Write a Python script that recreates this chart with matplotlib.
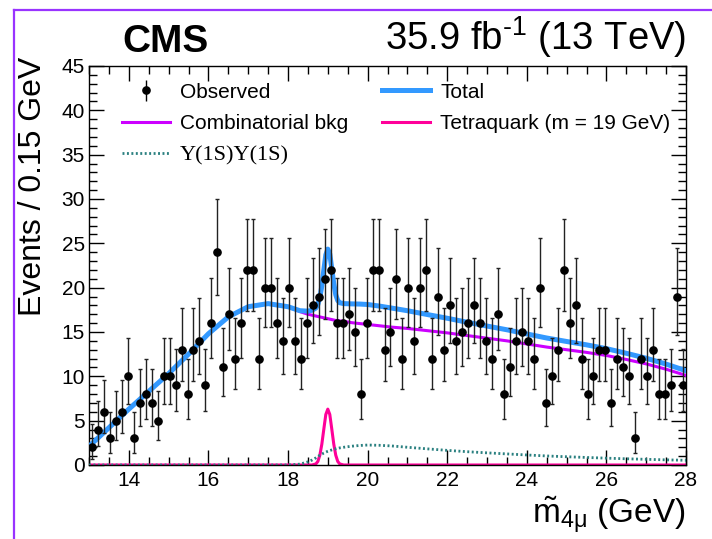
import numpy as np
import matplotlib
matplotlib.use('Agg')
import matplotlib.pyplot as plt
from matplotlib.lines import Line2D

plt.rcParams['font.family'] = ['Liberation Sans', 'DejaVu Sans']
plt.rcParams['mathtext.fontset'] = 'custom'
plt.rcParams['mathtext.rm'] = 'Liberation Sans'
plt.rcParams['mathtext.it'] = 'Liberation Sans'
plt.rcParams['mathtext.default'] = 'regular'

# observed counts, 100 bins of 0.15 GeV from 13 to 28 GeV
bin_lo = 13.0
bin_w = 0.15
counts = [2, 4, 6, 3, 5, 6, 10, 3, 7, 8, 7, 5, 10, 10, 9, 13, 8, 13, 14, 9,
          16, 24, 11, 17, 12, 16, 22, 22, 12, 20, 20, 16, 14, 20, 14, 12, 16, 18, 19, 21,
          22, 16, 16, 17, 15, 8, 16, 22, 22, 13, 15, 21, 12, 20, 14, 20, 22, 12, 19, 13,
          18, 14, 15, 16, 18, 16, 14, 12, 17, 8, 11, 14, 15, 14, 12, 20, 7, 10, 13, 22,
          16, 18, 12, 8, 10, 13, 13, 7, 12, 11, 10, 3, 12, 10, 13, 8, 8, 9, 19, 9]

# fit curves
x_fit = [13.0, 13.5, 14.0, 14.5, 15.0, 15.5, 16.0, 16.5, 17.0, 17.5, 18.0, 18.3,
         18.5, 18.6, 18.7, 18.75, 18.8, 18.85, 18.9, 18.95, 19.0, 19.05, 19.1, 19.15,
         19.2, 19.25, 19.3, 19.4, 19.6, 19.8, 20.0, 20.3, 20.6, 21.0, 21.5, 22.0,
         22.5, 23.0, 23.5, 24.0, 24.5, 25.0, 25.5, 26.0, 26.5, 27.0, 27.5, 28.0]
comb_bkg = [2.1, 4.2, 6.3, 8.3, 10.3, 12.5, 14.8, 16.7, 17.85, 18.2, 17.85, 17.3,
            17.0, 16.9, 16.8, 16.75, 16.7, 16.65, 16.6, 16.55, 16.5, 16.45, 16.4, 16.35,
            16.3, 16.28, 16.25, 16.2, 16.05, 15.95, 15.85, 15.7, 15.55, 15.4, 15.15, 14.9,
            14.6, 14.3, 14.0, 13.65, 13.3, 13.0, 12.7, 12.35, 11.9, 11.4, 10.8, 10.1]
upsilon_pair = [0, 0, 0, 0, 0, 0, 0, 0, 0, 0, 0, 0.1,
                0.35, 0.55, 0.8, 0.95, 1.1, 1.22, 1.35, 1.45, 1.55, 1.63, 1.7, 1.77,
                1.83, 1.88, 1.93, 2.0, 2.12, 2.2, 2.25, 2.22, 2.15, 2.0, 1.82, 1.65,
                1.5, 1.37, 1.25, 1.13, 1.02, 0.93, 0.85, 0.77, 0.7, 0.64, 0.58, 0.53]
tetraquark = [0, 0, 0, 0, 0, 0, 0, 0, 0, 0, 0, 0,
              0, 0, 0.12, 0.4, 1.1, 2.35, 4.05, 5.7, 6.3, 5.7, 4.05, 2.35,
              1.1, 0.4, 0.12, 0, 0, 0, 0, 0, 0, 0, 0, 0,
              0, 0, 0, 0, 0, 0, 0, 0, 0, 0, 0, 0]
total = [2.1, 4.2, 6.3, 8.3, 10.3, 12.5, 14.8, 16.7, 17.85, 18.2, 17.85, 17.4,
         17.35, 17.45, 17.7, 18.1, 18.9, 20.2, 22.0, 23.7, 24.35, 23.8, 22.15, 20.45,
         19.2, 18.55, 18.3, 18.2, 18.17, 18.15, 18.1, 17.92, 17.7, 17.4, 16.97, 16.55,
         16.1, 15.67, 15.25, 14.78, 14.32, 13.93, 13.55, 13.12, 12.6, 12.04, 11.38, 10.63]

n = np.array(counts, dtype=float)
centers = bin_lo + bin_w * (np.arange(len(n)) + 0.5)
# Poisson (Gehrels) intervals
err_hi = np.sqrt(n + 0.75) + 1.0
err_lo = n - n * (1 - 1 / (9 * n) - 1 / (3 * np.sqrt(n))) ** 3

fig = plt.figure(figsize=(7.12, 5.39), dpi=100)
ax = fig.add_axes([0.125, 0.1373, 0.8385, 0.7403])

ax.plot(x_fit, tetraquark, color='#ff0099', lw=2.2, zorder=2)
ax.plot(x_fit, upsilon_pair, color='#2a8080', lw=2.0, ls=(0, (0.7, 0.9)), zorder=3)
ax.plot(x_fit, comb_bkg, color='#cc00ff', lw=2.2, zorder=4)
ax.plot(x_fit, total, color='#3399ff', lw=3.6, zorder=5)
ax.errorbar(centers, n, yerr=[err_lo, err_hi], fmt='o', color='black', ms=5.2,
            ecolor='#222222', elinewidth=1.0, capsize=1.3, capthick=1.0, zorder=6)

ax.set_xlim(13, 28)
ax.set_ylim(0, 45)
ax.set_xticks(np.arange(14, 29, 2))
ax.set_xticks(np.arange(13, 28.01, 0.5), minor=True)
ax.set_yticks(np.arange(0, 46, 5))
ax.set_yticks(np.arange(0, 46, 1), minor=True)
ax.tick_params(which='both', direction='in', top=True, right=True, labelsize=15, width=1.0)
ax.tick_params(which='major', length=11)
ax.tick_params(which='minor', length=5.5)
ax.tick_params(axis='y', pad=3)
ax.tick_params(axis='x', pad=4)
for s in ax.spines.values():
    s.set_linewidth(1.0)

# legend, two columns like the ROOT one
h_obs = ax.errorbar([], [], yerr=[], fmt='o', color='black', ms=5.2, elinewidth=1.0)
h_comb = Line2D([], [], color='#cc00ff', lw=2.2)
h_ups = Line2D([], [], color='#2a8080', lw=2.0, ls=(0, (0.7, 0.9)))
h_tot = Line2D([], [], color='#3399ff', lw=3.6)
h_tq = Line2D([], [], color='#ff0099', lw=2.2)
leg = ax.legend([h_obs, h_comb, h_ups, h_tot, h_tq],
                ['Observed', 'Combinatorial bkg', 'Υ(1S)Υ(1S)', 'Total',
                 'Tetraquark (m = 19 GeV)'],
                ncol=2, loc='upper left', bbox_to_anchor=(0.055, 0.958), frameon=False,
                fontsize=15, handlelength=2.3, handletextpad=0.5, columnspacing=1.6,
                labelspacing=0.6, borderpad=0, borderaxespad=0)
leg.get_texts()[2].set_family(['Liberation Serif', 'DejaVu Serif'])
leg.get_texts()[2].set_fontsize(16)

fig.text(122 / 712, 1 - 52 / 539, 'CMS', fontsize=28, fontweight='bold', ha='left', va='baseline')
fig.text(686 / 712, 1 - 50 / 539, '35.9 fb$^{\u2010 1}$ (13 TeV)', fontsize=27.5, ha='right', va='baseline')
fig.text(33 / 712, 1 - 57 / 539, 'Events / 0.15 GeV', fontsize=23, rotation=90, ha='center', va='top')
fig.text(686 / 712, 1 - 524 / 539, r'$\tilde{m}_{4\mu}$ (GeV)', fontsize=24, ha='right', va='baseline')

# purple frame from the page
fig.add_artist(Line2D([14 / 712, 14 / 712], [0, 1 - 10 / 539], color='#9933ff', lw=1.6))
fig.add_artist(Line2D([14 / 712, 1], [1 - 10 / 539, 1 - 10 / 539], color='#9933ff', lw=1.6))

fig.savefig('out.png', dpi=100)
